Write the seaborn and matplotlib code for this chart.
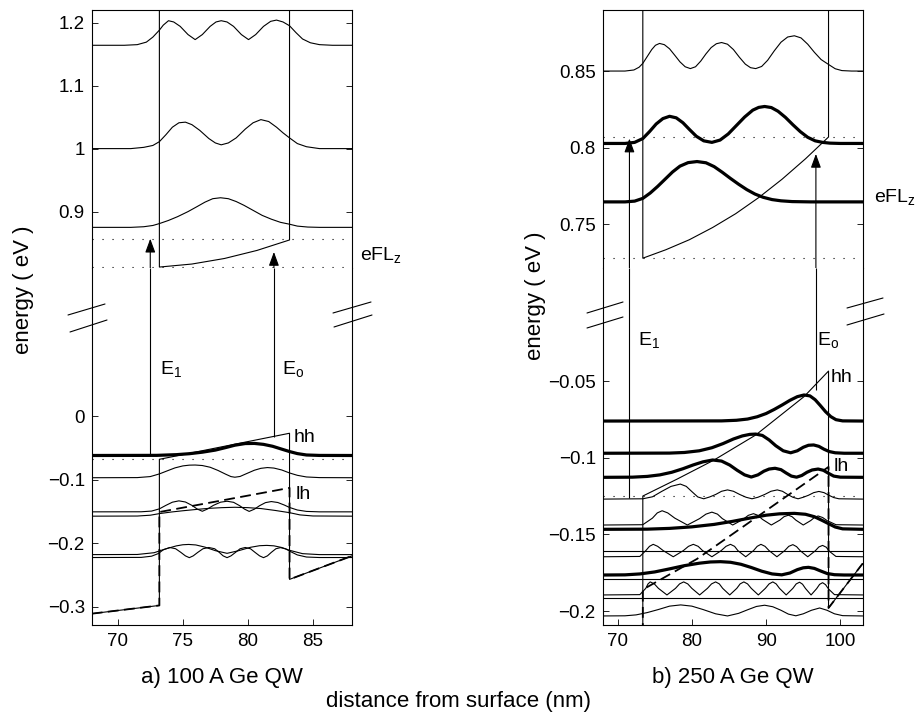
import pandas as pd
import matplotlib
matplotlib.use('Agg')
import matplotlib.pyplot as plt
from matplotlib.lines import Line2D
import seaborn as sns

# ---------------- panel a) 100 A Ge QW  (x: nm, energy: eV) ----------------
a_cb_edge = [(73.2, 1.25), (73.2, 0.812), (75.7, 0.8168), (78.2, 0.8256), (80.7, 0.8384), (83.2, 0.855), (83.2, 1.25)]
a_cb_wave1 = [(68, 0.875), (71.0, 0.875), (72.0, 0.876), (72.7, 0.878), (73.2, 0.881), (73.9, 0.886), (74.6, 0.892),
              (75.4, 0.900), (76.1, 0.908), (76.7, 0.915), (77.3, 0.9205), (77.9, 0.922), (78.5, 0.9205),
              (79.1, 0.916), (79.7, 0.910), (80.4, 0.902), (81.1, 0.894), (81.8, 0.888), (82.5, 0.883),
              (83.2, 0.880), (83.8, 0.877), (84.6, 0.8755), (85.5, 0.875), (88, 0.875)]
a_cb_wave2 = [(68, 1.0), (71.0, 1.0), (72.0, 1.002), (72.7, 1.005), (73.2, 1.011), (73.7, 1.022), (74.2, 1.034),
              (74.7, 1.041), (75.2, 1.042), (75.7, 1.038), (76.3, 1.029), (77.0, 1.016), (77.5, 1.009),
              (77.95, 1.006), (78.5, 1.009), (79.1, 1.017), (79.8, 1.031), (80.4, 1.041), (81.0, 1.046),
              (81.6, 1.043), (82.2, 1.034), (82.7, 1.025), (83.2, 1.017), (83.8, 1.008), (84.5, 1.003),
              (85.5, 1.0), (88, 1.0)]
a_cb_wave3 = [(68, 1.164), (70.5, 1.164), (71.5, 1.165), (72.2, 1.169), (72.7, 1.177), (73.2, 1.188), (73.5, 1.196),
              (73.9, 1.203), (74.3, 1.201), (74.8, 1.194), (75.4, 1.181), (75.95, 1.173), (76.5, 1.181),
              (77.1, 1.194), (77.55, 1.201), (77.95, 1.203), (78.4, 1.201), (78.9, 1.194), (79.5, 1.181),
              (80.05, 1.173), (80.6, 1.181), (81.2, 1.194), (81.75, 1.202), (82.2, 1.204), (82.7, 1.201),
              (83.2, 1.195), (83.7, 1.184), (84.2, 1.174), (84.8, 1.168), (85.5, 1.165), (86.5, 1.164), (88, 1.164)]

a_hh_edge = [(68, -0.311), (73.2, -0.298), (73.2, -0.068), (83.2, -0.027), (83.2, -0.257), (88, -0.220)]
a_lh_edge = [(68, -0.311), (73.2, -0.298), (73.2, -0.151), (83.2, -0.113), (83.2, -0.257), (88, -0.220)]
a_vb_hh1 = [(68, -0.062), (73.0, -0.0618), (74.5, -0.0607), (75.5, -0.0592), (76.5, -0.0568), (77.5, -0.0535),
            (78.3, -0.0495), (79.0, -0.0458), (79.8, -0.0432), (80.5, -0.043), (81.2, -0.0445), (81.9, -0.0475),
            (82.6, -0.052), (83.2, -0.0558), (83.8, -0.059), (84.5, -0.0612), (85.5, -0.0619), (88, -0.062)]
a_vb_wave2 = [(68, -0.097), (71.5, -0.0968), (72.5, -0.0952), (73.2, -0.091), (73.8, -0.0862), (74.4, -0.0815),
              (75.0, -0.0784), (75.5, -0.0772), (75.95, -0.077), (76.5, -0.0778), (77.1, -0.0805),
              (77.7, -0.0855), (78.3, -0.0915), (78.7, -0.0952), (79.0, -0.0962), (79.4, -0.095), (79.9, -0.0905),
              (80.5, -0.0852), (81.0, -0.0822), (81.5, -0.081), (82.0, -0.0818), (82.6, -0.0848),
              (83.2, -0.0895), (83.8, -0.0932), (84.5, -0.0958), (85.5, -0.0968), (88, -0.097)]
a_vb_wave3 = [(68, -0.1507), (71.8, -0.1506), (72.6, -0.1495), (73.2, -0.146), (73.7, -0.1405), (74.2, -0.1355),
              (74.7, -0.1334), (75.2, -0.1352), (75.7, -0.1405), (76.1, -0.1462), (76.5, -0.1498),
              (76.9, -0.1462), (77.35, -0.1405), (77.9, -0.1355), (78.4, -0.134), (78.9, -0.1357),
              (79.35, -0.1408), (79.75, -0.1465), (80.1, -0.15), (80.5, -0.1465), (80.9, -0.141),
              (81.35, -0.1362), (81.8, -0.1345), (82.3, -0.136), (82.8, -0.14), (83.2, -0.1438),
              (83.8, -0.1478), (84.5, -0.15), (85.5, -0.1507), (88, -0.1507)]
a_vb_wave4 = [(68, -0.1575), (71.5, -0.1573), (72.5, -0.156), (73.2, -0.1535), (74.1, -0.151), (75.0, -0.149),
              (76.0, -0.147), (77.0, -0.1452), (78.0, -0.1441), (79.0, -0.1435), (80.0, -0.1441),
              (81.0, -0.1455), (82.1, -0.1485), (83.2, -0.152), (84.0, -0.1555), (85.0, -0.1572), (88, -0.1575)]
a_vb_wave5 = [(68, -0.218), (71.5, -0.2178), (72.8, -0.215), (73.6, -0.2095), (74.5, -0.2043), (75.0, -0.2025),
              (75.45, -0.202), (76.0, -0.2028), (76.7, -0.2062), (77.5, -0.2118), (78.4, -0.216),
              (79.3, -0.2118), (80.2, -0.2065), (80.9, -0.2040), (81.45, -0.2035), (82.0, -0.2042),
              (82.6, -0.2068), (83.2, -0.2112), (84.2, -0.2165), (85.5, -0.218), (88, -0.218)]
a_vb_wave6 = [(68, -0.2226), (71.8, -0.2224), (72.6, -0.2205), (73.1, -0.2165), (73.5, -0.2105), (74.0, -0.2068),
              (74.45, -0.2088), (74.85, -0.2145), (75.2, -0.22), (75.5, -0.2228), (75.8, -0.22),
              (76.15, -0.2145), (76.55, -0.2088), (77.0, -0.2068), (77.45, -0.2088), (77.8, -0.2145),
              (78.1, -0.22), (78.4, -0.2228), (78.7, -0.22), (79.05, -0.2145), (79.4, -0.2088), (79.8, -0.2068),
              (80.2, -0.2088), (80.55, -0.2145), (80.9, -0.22), (81.2, -0.2228), (81.5, -0.22), (81.8, -0.2145),
              (82.15, -0.2088), (82.5, -0.207), (82.9, -0.209), (83.3, -0.2135), (83.8, -0.2185),
              (84.5, -0.2218), (85.5, -0.2226), (88, -0.2226)]

a_dotted_top = [0.856, 0.812]
a_dotted_bot = [-0.068]
a_arrow_x = [72.5, 82.0]
a_arrow_from = [-0.062, -0.033]
a_arrow_to = [0.857, 0.836]
a_top_labels = [(88.6, 0.831, 'eFL$_z$')]
a_bot_labels = [(73.25, 0.074, 'E$_1$'), (82.6, 0.074, 'E$_o$'), (83.5, -0.033, 'hh'), (83.65, -0.124, 'lh')]

# ---------------- panel b) 250 A Ge QW ----------------
b_cb_edge = [(73.4, 0.90), (73.4, 0.728), (76.5, 0.7335), (79.65, 0.740), (82.8, 0.748), (85.9, 0.757),
             (89.0, 0.7675), (92.15, 0.7795), (95.3, 0.7928), (98.4, 0.807), (98.4, 0.90)]
b_cb_wave1 = [(68, 0.7647), (71.0, 0.7647), (72.3, 0.7652), (73.4, 0.767), (74.4, 0.7705), (75.4, 0.7748),
              (76.4, 0.7795), (77.4, 0.7842), (78.4, 0.788), (79.5, 0.7903), (80.7, 0.791), (81.9, 0.7902),
              (83.0, 0.7877), (84.1, 0.784), (85.2, 0.78), (86.3, 0.7762), (87.4, 0.7727), (88.5, 0.7698),
              (89.6, 0.7677), (90.8, 0.7662), (92.0, 0.7654), (93.5, 0.7649), (96, 0.7647), (103, 0.7647)]
b_cb_wave2 = [(68, 0.8028), (71.0, 0.8028), (72.3, 0.8035), (73.4, 0.806), (74.3, 0.8105), (75.2, 0.8155),
              (76.1, 0.819), (77.0, 0.8205), (77.9, 0.8195), (78.8, 0.8163), (79.7, 0.8118), (80.6, 0.8075),
              (81.6, 0.8045), (82.7, 0.8035), (83.8, 0.805), (84.9, 0.809), (86.0, 0.8145), (87.1, 0.82),
              (88.2, 0.8245), (89.0, 0.8263), (89.8, 0.8269), (90.7, 0.8262), (91.6, 0.8238), (92.6, 0.8198),
              (93.6, 0.815), (94.6, 0.8105), (95.6, 0.8068), (96.6, 0.8045), (97.6, 0.8035), (98.6, 0.803),
              (100, 0.8028), (103, 0.8028)]
b_cb_wave3 = [(68, 0.85), (71.0, 0.85), (72.2, 0.8507), (72.9, 0.8525), (73.4, 0.855), (74.0, 0.8595), (74.6, 0.864),
              (75.1, 0.8668), (75.65, 0.868), (76.3, 0.8672), (77.0, 0.8645), (77.7, 0.8603), (78.4, 0.856),
              (79.1, 0.8528), (79.8, 0.8516), (80.5, 0.8528), (81.2, 0.8565), (81.9, 0.8612), (82.6, 0.8653),
              (83.3, 0.8678), (84.0, 0.8686), (84.8, 0.8675), (85.6, 0.864), (86.4, 0.859), (87.2, 0.8545),
              (87.9, 0.8522), (88.6, 0.8516), (89.4, 0.853), (90.2, 0.857), (91.1, 0.8632), (92.0, 0.8688),
              (92.9, 0.8722), (93.8, 0.873), (94.7, 0.8716), (95.6, 0.8675), (96.5, 0.8622), (97.4, 0.8575),
              (98.4, 0.8543), (99.3, 0.8515), (100.2, 0.8503), (101.5, 0.85), (103, 0.85)]

b_hh_edge = [(73.4, -0.215), (73.4, -0.125), (78.0, -0.114), (83.0, -0.1015), (88.6, -0.0852), (95.1, -0.0602),
             (98.4, -0.0435), (98.4, -0.198), (103, -0.169)]
b_lh_edge = [(73.4, -0.215), (73.4, -0.186), (80.7, -0.166), (89.7, -0.1355), (98.4, -0.106), (98.4, -0.198),
             (103, -0.169)]
b_vb_thick1 = [(68, -0.0761), (84, -0.076), (86, -0.0756), (87.5, -0.0748), (88.8, -0.0733), (90, -0.0712),
               (91.1, -0.0685), (92.2, -0.0655), (93.2, -0.0626), (94.2, -0.0602), (95.1, -0.0591),
               (95.9, -0.0597), (96.6, -0.0622), (97.3, -0.066), (98.0, -0.07), (98.7, -0.0732),
               (99.4, -0.0752), (100.3, -0.076), (103, -0.0761)]
b_vb_thick2 = [(68, -0.0971), (77, -0.097), (79, -0.0966), (81, -0.0955), (82.7, -0.0935), (84.2, -0.0908),
               (85.6, -0.0878), (86.8, -0.0858), (87.8, -0.0848), (88.6, -0.0846), (89.5, -0.0855),
               (90.4, -0.0884), (91.3, -0.0922), (92.3, -0.0955), (93.3, -0.0968), (94.2, -0.0955),
               (95.0, -0.0932), (95.7, -0.0919), (96.4, -0.0917), (97.1, -0.0926), (97.8, -0.0945),
               (98.5, -0.096), (99.3, -0.0968), (100.5, -0.0971), (103, -0.0971)]
b_vb_thick3 = [(68, -0.1128), (72, -0.1127), (74, -0.1122), (75.7, -0.1112), (77.3, -0.1095), (78.8, -0.1072),
               (80.2, -0.1047), (81.5, -0.1027), (82.8, -0.1015), (84.0, -0.1022), (85.1, -0.1048),
               (86.1, -0.1082), (87.1, -0.1112), (88.0, -0.1126), (88.9, -0.1112), (89.7, -0.1088),
               (90.4, -0.1074), (91.2, -0.1069), (92.0, -0.1078), (92.7, -0.11), (93.4, -0.112), (94.1, -0.1127),
               (94.8, -0.1116), (95.5, -0.1095), (96.2, -0.108), (97.0, -0.1074), (97.7, -0.1082),
               (98.4, -0.1102), (99.1, -0.112), (100, -0.1127), (103, -0.1128)]
b_vb_wave1 = [(68, -0.127), (73.4, -0.1268), (74.7, -0.1255), (75.9, -0.1221), (77.2, -0.1187), (78.45, -0.1172),
              (79.25, -0.1187), (80.0, -0.1221), (80.8, -0.1256), (81.6, -0.1268), (82.4, -0.1256),
              (83.2, -0.124), (84.0, -0.1219), (84.8, -0.121), (85.6, -0.1219), (86.45, -0.124),
              (87.3, -0.1258), (88.1, -0.1268), (88.9, -0.1258), (89.8, -0.124), (90.65, -0.1219),
              (91.5, -0.121), (92.2, -0.1219), (92.9, -0.124), (93.6, -0.1258), (94.3, -0.1268),
              (95.0, -0.1258), (95.7, -0.1245), (96.4, -0.1228), (97.1, -0.122), (97.8, -0.1228),
              (98.45, -0.1245), (99.1, -0.126), (99.8, -0.1268), (103, -0.127)]
b_vb_wave2 = [(68, -0.1439), (73.4, -0.1437), (74.7, -0.1394), (75.35, -0.136), (76.0, -0.1346), (76.75, -0.136),
              (77.7, -0.1394), (79.4, -0.1439), (81.05, -0.1397), (81.9, -0.1368), (82.7, -0.1355),
              (83.45, -0.1368), (84.1, -0.1397), (85.5, -0.1439), (86.9, -0.1402), (87.6, -0.1376),
              (88.3, -0.1365), (88.9, -0.1376), (89.5, -0.1402), (90.7, -0.1439), (91.85, -0.1407),
              (92.4, -0.1385), (93.0, -0.1375), (93.5, -0.1385), (94.0, -0.1407), (95.0, -0.1439),
              (96.0, -0.141), (96.5, -0.139), (97.0, -0.138), (97.6, -0.139), (98.2, -0.141), (99.4, -0.1437),
              (103, -0.1439)]
b_vb_thick4 = [(68, -0.1467), (74, -0.1466), (77, -0.1461), (80, -0.1451), (83, -0.1435), (85.5, -0.1415),
               (88, -0.1392), (90, -0.1375), (91.8, -0.1366), (93.8, -0.1363), (95.3, -0.1369), (96.5, -0.1385),
               (97.5, -0.1408), (98.4, -0.143), (99.3, -0.1452), (100.3, -0.1464), (103, -0.1467)]
b_vb_flat1 = [(68, -0.1606), (103, -0.1606)]
b_vb_wave3 = [(68, -0.1646), (73.0, -0.1644), (73.8, -0.1606), (74.3, -0.1578), (74.8, -0.1565), (75.4, -0.1578),
              (76.15, -0.1606), (77.5, -0.1646), (78.85, -0.1606), (79.55, -0.1578), (80.2, -0.1565),
              (80.85, -0.1578), (81.45, -0.1606), (82.7, -0.1646), (83.95, -0.1606), (84.6, -0.1578),
              (85.2, -0.1565), (85.75, -0.1578), (86.2, -0.1606), (87.25, -0.1646), (88.3, -0.1606),
              (88.8, -0.1578), (89.3, -0.1565), (89.85, -0.1578), (90.4, -0.1606), (91.45, -0.1646),
              (92.5, -0.1606), (93.05, -0.1578), (93.6, -0.1567), (94.1, -0.158), (94.6, -0.1607),
              (95.6, -0.1646), (96.6, -0.1608), (97.1, -0.1582), (97.6, -0.1572), (98.1, -0.1584),
              (98.5, -0.161), (99.4, -0.1644), (103, -0.1646)]
b_vb_thick5 = [(68, -0.1765), (71, -0.1764), (73, -0.1758), (75, -0.1745), (77, -0.1725), (79, -0.1704),
               (81, -0.1688), (82.5, -0.168), (83.85, -0.1678), (85.2, -0.1682), (86.6, -0.1695), (88, -0.1716),
               (89.4, -0.174), (90.8, -0.1758), (92.1, -0.1764), (93.2, -0.1752), (94.2, -0.173), (95.0, -0.1718),
               (95.7, -0.1715), (96.5, -0.1722), (97.3, -0.1738), (98.2, -0.1755), (99.2, -0.1763),
               (100.5, -0.1765), (103, -0.1765)]
b_vb_flat2 = [(68, -0.1794), (103, -0.1794)]
b_vb_wave4 = [(68, -0.1895), (73.0, -0.1893), (73.8, -0.1852), (74.1, -0.1823), (74.4, -0.181), (74.95, -0.1823),
              (75.5, -0.1852), (76.65, -0.1895), (77.8, -0.1852), (78.35, -0.1823), (78.9, -0.181),
              (79.45, -0.1823), (80.0, -0.1852), (81.05, -0.1895), (82.1, -0.1852), (82.65, -0.1823),
              (83.2, -0.181), (83.7, -0.1823), (84.15, -0.1852), (85.1, -0.1895), (86.05, -0.1852),
              (86.5, -0.1823), (87.0, -0.181), (87.5, -0.1823), (88.0, -0.1852), (88.95, -0.1895),
              (89.9, -0.1852), (90.4, -0.1823), (90.9, -0.181), (91.35, -0.1823), (91.8, -0.1852),
              (92.7, -0.1895), (93.6, -0.1852), (94.05, -0.1823), (94.5, -0.1812), (94.9, -0.1825),
              (95.3, -0.1853), (96.05, -0.1895), (96.8, -0.1854), (97.2, -0.1826), (97.6, -0.1815),
              (98.0, -0.1828), (98.4, -0.1856), (99.2, -0.1893), (103, -0.1895)]
b_vb_flat3 = [(68, -0.1917), (103, -0.1917)]
b_vb_wave5 = [(68, -0.2032), (71.0, -0.2031), (72.5, -0.2025), (74.0, -0.201), (75.5, -0.199), (77.0, -0.1968),
              (78.5, -0.196), (80.0, -0.1968), (81.5, -0.199), (83.2, -0.2018), (84.8, -0.2032), (86.3, -0.2015),
              (87.6, -0.199), (88.7, -0.197), (89.8, -0.1962), (90.9, -0.1972), (92.0, -0.1995), (93.0, -0.202),
              (94.0, -0.2031), (95.0, -0.2018), (96.1, -0.1995), (97.2, -0.198), (98.2, -0.1995),
              (99.2, -0.2018), (100.3, -0.203), (103, -0.2032)]

b_dotted_top = [0.807, 0.728]
b_dotted_bot = [-0.125]
b_arrow_x = [71.6, 96.7]
b_arrow_from = [-0.126, -0.056]
b_arrow_to = [0.806, 0.796]
b_top_labels = [(104.5, 0.768, 'eFL$_z$')]
b_bot_labels = [(72.8, -0.0233, 'E$_1$'), (96.9, -0.0233, 'E$_o$'), (98.7, -0.048, 'hh'), (99.1, -0.1055, 'lh')]

a_xticks = [70, 75, 80, 85]
b_xticks = [70, 80, 90, 100]
a_top_yticks = [0.9, 1.0, 1.1, 1.2]
a_top_ylabels = ['0.9', '1', '1.1', '1.2']
a_bot_yticks = [-0.3, -0.2, -0.1, 0.0]
a_bot_ylabels = ['\u22120.3', '\u22120.2', '\u22120.1', '0']
b_top_yticks = [0.75, 0.8, 0.85]
b_top_ylabels = ['0.75', '0.8', '0.85']
b_bot_yticks = [-0.2, -0.15, -0.1, -0.05]
b_bot_ylabels = ['\u22120.2', '\u22120.15', '\u22120.1', '\u22120.05']

sns.set_theme(style='white', rc={'text.color': 'black', 'xtick.color': 'black', 'ytick.color': 'black',
                                 'axes.labelcolor': 'black', 'axes.edgecolor': 'black'})
plt.rcParams['font.family'] = ['Liberation Sans', 'DejaVu Sans']
plt.rcParams['mathtext.default'] = 'regular'

THIN, THICK = 0.8, 2.3
TICK_FS, LABEL_FS, NOTE_FS = 13.5, 16, 14
W, H = 916, 713


def trace(ax, pts, lw=THIN, ls='-'):
    df = pd.DataFrame(pts, columns=['x', 'energy'])
    sns.lineplot(data=df, x='x', y='energy', ax=ax, sort=False, estimator=None,
                 color='black', linewidth=lw, linestyle=ls)


def style_axes(ax, is_top):
    for side in ['left', 'right', 'top', 'bottom']:
        ax.spines[side].set_color('black')
        ax.spines[side].set_linewidth(0.8)
    if is_top:
        ax.spines['bottom'].set_visible(False)
        ax.tick_params(axis='x', bottom=False, labelbottom=False)
    else:
        ax.spines['top'].set_visible(False)
        ax.tick_params(axis='x', bottom=True, top=False, direction='in', length=4, width=0.6,
                       labelsize=TICK_FS, pad=6)
    ax.tick_params(axis='y', left=True, right=True, direction='in', length=4, width=0.6,
                   labelsize=TICK_FS, pad=5)
    ax.set_xlabel('')
    ax.set_ylabel('')


fig = plt.figure(figsize=(W / 100, H / 100), dpi=100)

panels = [
    dict(left=91.7, right=352.0, xlim=(68, 88), xticks=a_xticks,
         top_ylim=(0.8105, 1.22), bot_ylim=(-0.3288, 0.2331),
         top_ticks=(a_top_yticks, a_top_ylabels), bot_ticks=(a_bot_yticks, a_bot_ylabels),
         top_thin=[a_cb_edge, a_cb_wave1, a_cb_wave2, a_cb_wave3], top_thick=[],
         bot_thin=[a_hh_edge, a_vb_wave2, a_vb_wave3, a_vb_wave4, a_vb_wave5, a_vb_wave6],
         bot_thick=[a_vb_hh1], dashed=[a_lh_edge],
         dot_top=a_dotted_top, dot_bot=a_dotted_bot,
         arrows=(a_arrow_x, a_arrow_from, a_arrow_to),
         top_labels=a_top_labels, bot_labels=a_bot_labels),
    dict(left=602.7, right=862.7, xlim=(68, 103), xticks=b_xticks,
         top_ylim=(0.7216, 0.8898), bot_ylim=(-0.2091, 0.0237),
         top_ticks=(b_top_yticks, b_top_ylabels), bot_ticks=(b_bot_yticks, b_bot_ylabels),
         top_thin=[b_cb_edge, b_cb_wave3], top_thick=[b_cb_wave1, b_cb_wave2],
         bot_thin=[b_hh_edge, b_vb_wave1, b_vb_wave2, b_vb_flat1, b_vb_wave3, b_vb_flat2, b_vb_wave4,
                   b_vb_flat3, b_vb_wave5],
         bot_thick=[b_vb_thick1, b_vb_thick2, b_vb_thick3, b_vb_thick4, b_vb_thick5], dashed=[b_lh_edge],
         dot_top=b_dotted_top, dot_bot=b_dotted_bot,
         arrows=(b_arrow_x, b_arrow_from, b_arrow_to),
         top_labels=b_top_labels, bot_labels=b_bot_labels),
]

y_split = 268.0
for p in panels:
    fx = p['left'] / W
    fw = (p['right'] - p['left']) / W
    ax_top = fig.add_axes([fx, 1 - y_split / H, fw, (y_split - 10) / H])
    ax_bot = fig.add_axes([fx, 1 - 625 / H, fw, (625 - y_split) / H])

    for pts in p['top_thin']:
        trace(ax_top, pts)
    for pts in p['top_thick']:
        trace(ax_top, pts, lw=THICK)
    for pts in p['bot_thin']:
        trace(ax_bot, pts)
    for pts in p['bot_thick']:
        trace(ax_bot, pts, lw=THICK)
    for pts in p['dashed']:
        trace(ax_bot, pts, lw=1.3, ls=(0, (6, 3)))

    for e in p['dot_top']:
        ax_top.axhline(e, color='black', lw=0.8, linestyle=(0, (1, 8)))
    for e in p['dot_bot']:
        ax_bot.axhline(e, color='black', lw=0.8, linestyle=(0, (1, 8)))

    ax_top.set_xlim(*p['xlim'])
    ax_bot.set_xlim(*p['xlim'])
    ax_top.set_ylim(*p['top_ylim'])
    ax_bot.set_ylim(*p['bot_ylim'])

    xs, e_from, e_to = p['arrows']
    for x, e0, e1 in zip(xs, e_from, e_to):
        ax_bot.vlines(x, e0, p['bot_ylim'][1], color='black', lw=0.8)
        ax_top.annotate('', xy=(x, e1), xytext=(x, p['top_ylim'][0]),
                        arrowprops=dict(arrowstyle='-|>,head_length=0.6,head_width=0.22',
                                        color='black', lw=0.8, mutation_scale=14,
                                        shrinkA=0, shrinkB=0))

    for x, e, s in p['top_labels']:
        ax_top.text(x, e, s, fontsize=NOTE_FS, ha='left', va='center', clip_on=False)
    for x, e, s in p['bot_labels']:
        ax_bot.text(x, e, s, fontsize=NOTE_FS, ha='left', va='center', clip_on=False)

    ax_top.set_yticks(p['top_ticks'][0], p['top_ticks'][1])
    ax_bot.set_yticks(p['bot_ticks'][0], p['bot_ticks'][1])
    ax_bot.set_xticks(p['xticks'], [str(t) for t in p['xticks']])
    style_axes(ax_top, True)
    style_axes(ax_bot, False)

# axis-break marks (figure pixels, top-left origin)
break_marks = [
    ((68, 315), (105, 304)), ((70, 332), (107, 320)),
    ((333, 313), (371, 302)), ((334, 327), (372, 315)),
    ((587, 313), (623, 302)), ((587, 328), (623, 317)),
    ((847, 308), (883, 298)), ((847, 325), (884, 314)),
]
for (x0, y0), (x1, y1) in break_marks:
    fig.add_artist(Line2D([x0 / W, x1 / W], [1 - y0 / H, 1 - y1 / H], color='black', lw=0.8))

fig.text(24 / W, 1 - 290 / H, 'energy ( eV )', rotation=90, ha='center', va='center', fontsize=LABEL_FS)
fig.text(535 / W, 1 - 296 / H, 'energy ( eV )', rotation=90, ha='center', va='center', fontsize=LABEL_FS)
fig.text(222 / W, 1 - 677 / H, 'a) 100 A Ge QW', ha='center', va='center', fontsize=LABEL_FS)
fig.text(733 / W, 1 - 677 / H, 'b) 250 A Ge QW', ha='center', va='center', fontsize=LABEL_FS)
fig.text(458 / W, 1 - 702 / H, 'distance from surface (nm)', ha='center', va='center', fontsize=LABEL_FS)

fig.savefig('out.png', dpi=100, facecolor='white')
